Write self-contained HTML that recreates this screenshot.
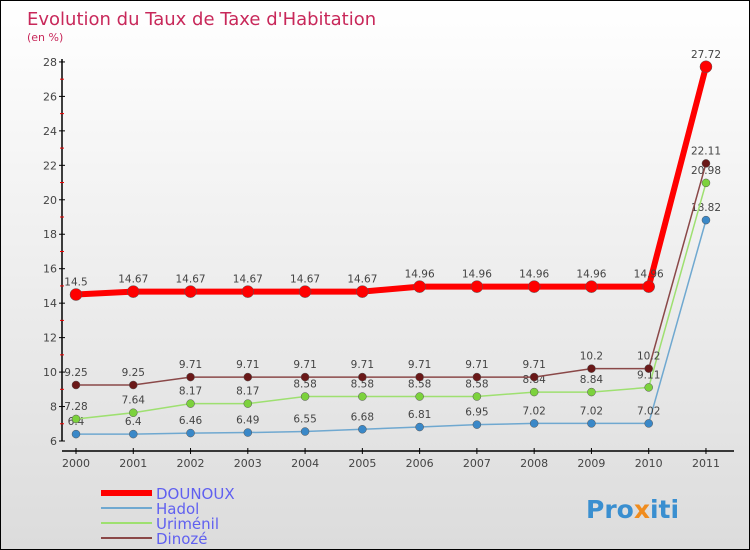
<!DOCTYPE html>
<html><head><meta charset="utf-8"><style>
body{margin:0}
#c{position:relative;width:750px;height:550px;box-sizing:border-box;border:1px solid #000;background:linear-gradient(#fff,#dcdcdc);font-family:"DejaVu Sans","Liberation Sans",sans-serif;overflow:hidden}
</style></head><body>
<div id="c">
<svg id="s" width="750" height="550" style="position:absolute;left:0;top:0">
<text x="26" y="24" font-size="18" fill="#c8285a">Evolution du Taux de Taxe d'Habitation</text>
<text x="26" y="40" font-size="11" fill="#c8285a">(en %)</text>
<g id="axes"></g><g id="series"></g><g id="legend"></g>
<text x="585" y="517" font-size="25" font-weight="bold" fill="#3a8fd0">Pro<tspan fill="#f08c1e">x</tspan>iti</text>
</svg></div>
<script>
const years=["2000","2001","2002","2003","2004","2005","2006","2007","2008","2009","2010","2011"];
const yTicks=[6,8,10,12,14,16,18,20,22,24,26,28];
const dounoux=[14.5,14.67,14.67,14.67,14.67,14.67,14.96,14.96,14.96,14.96,14.96,27.72];
const hadol=[6.4,6.4,6.46,6.49,6.55,6.68,6.81,6.95,7.02,7.02,7.02,18.82];
const urimenil=[7.28,7.64,8.17,8.17,8.58,8.58,8.58,8.58,8.84,8.84,9.11,20.98];
const dinoze=[9.25,9.25,9.71,9.71,9.71,9.71,9.71,9.71,9.71,10.2,10.2,22.11];
const NS="http://www.w3.org/2000/svg";
const xs=i=>75+i*57.27, ys=v=>440-(v-6)*17.23;
function mk(t,a,p){const e=document.createElementNS(NS,t);for(const k in a)e.setAttribute(k,a[k]);p.appendChild(e);return e;}
const ax=document.getElementById('axes');
let yl=mk('line',{x1:61,y1:58,x2:61,y2:440,stroke:'#000','stroke-width':1.5},ax);


yTicks.forEach((v,k)=>{mk('line',{x1:58,x2:64,y1:ys(v),y2:ys(v),stroke:'#000'},ax);
 if(k<yTicks.length-1) mk('line',{x1:59,x2:63,y1:ys(v+1),y2:ys(v+1),stroke:'#e00'},ax);
 const t=mk('text',{x:56,y:ys(v)+4,'font-size':11,fill:'#444','text-anchor':'end'},ax);t.textContent=v;
 
 });
let xl=mk('line',{x1:61,y1:450,x2:733,y2:450,stroke:'#000','stroke-width':1.5},ax);


years.forEach((y,i)=>{mk('line',{x1:xs(i),x2:xs(i),y1:447,y2:453,stroke:'#000'},ax);
 const t=mk('text',{x:xs(i),y:466,'font-size':11,fill:'#444','text-anchor':'middle'},ax);t.textContent=y;
 
 });
const sg=document.getElementById('series');
const S=[[hadol,'#6fa8d0','#3a88c8',1.5,4,'hadol'],[urimenil,'#9ee070','#7cd23c',1.5,4,'urimenil'],[dinoze,'#8a4848','#6a1818',1.5,4,'dinoze'],[dounoux,'#f00','#f00',6,6,'dounoux']];
S.forEach(([d,lc,pc,w,r,n])=>{
 const p=mk('polyline',{points:d.map((v,i)=>xs(i)+','+ys(v)).join(' '),fill:'none',stroke:lc,'stroke-width':w},sg);
 
 
 d.forEach((v,i)=>{const c=mk('circle',{cx:xs(i),cy:ys(v),r:r,fill:pc,stroke:'#555','stroke-width':0.5},sg);
  
  
  const t=mk('text',{x:xs(i),y:ys(v)-9,'font-size':10.5,fill:'#444','text-anchor':'middle'},sg);t.textContent=v;
  
  });
});
const lg=document.getElementById('legend');
[['DOUNOUX','#f00',6],['Hadol','#6fa8d0',2],['Uriménil','#9ee070',2],['Dinozé','#8a4848',2]].forEach(([n,c,w],i)=>{
 const y=492+i*15;
 const l=mk('line',{x1:100,x2:151,y1:y,y2:y,stroke:c,'stroke-width':w},lg);
 
 
 const t=mk('text',{x:155,y:y+6,'font-size':15,fill:'#6060f0'},lg);t.textContent=n;
 
 
});
</script></body></html>
